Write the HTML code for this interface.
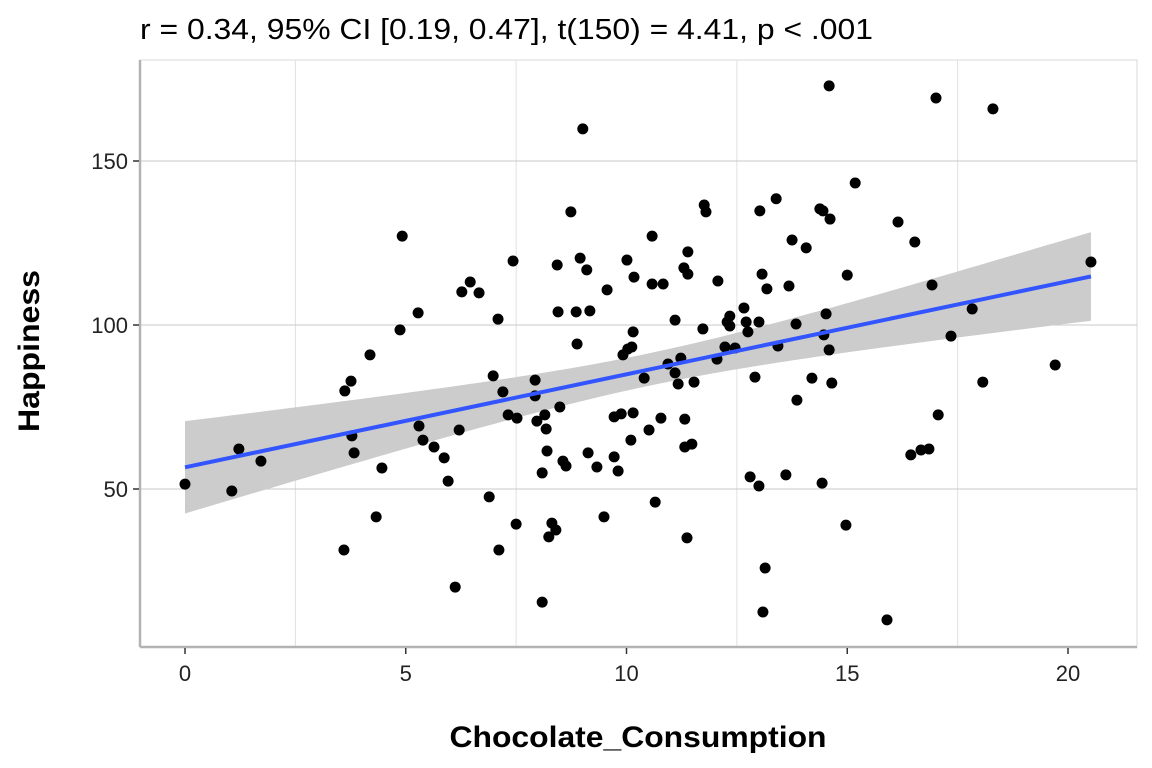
<!DOCTYPE html>
<html><head><meta charset="utf-8"><style>
html,body{margin:0;padding:0;background:#fff;}
svg{display:block;font-family:"Liberation Sans",Arial,sans-serif;}
</style></head><body>
<svg id="chart" width="1152" height="768" viewBox="0 0 1152 768" xmlns="http://www.w3.org/2000/svg">
<text x="140" y="39" font-size="29" textLength="733" lengthAdjust="spacingAndGlyphs" fill="#000">r = 0.34, 95% CI [0.19, 0.47], t(150) = 4.41, p &lt; .001</text>
<text x="638" y="747" font-size="30" font-weight="bold" text-anchor="middle" textLength="377" lengthAdjust="spacingAndGlyphs">Chocolate_Consumption</text>
<text transform="translate(39,351) rotate(-90)" font-size="30" font-weight="bold" text-anchor="middle" textLength="162" lengthAdjust="spacingAndGlyphs">Happiness</text>
<g id="grid"></g><g id="band"></g><g id="pts"></g><g id="axes"></g>
</svg>
<script>
const xVals=[0,1.06,1.22,1.72,3.6,3.62,3.76,3.78,3.83,4.19,4.33,4.46,4.87,4.92,5.28,5.3,5.39,5.64,5.87,5.96,6.12,6.21,6.27,6.46,6.66,6.89,6.98,7.09,7.11,7.2,7.32,7.43,7.5,7.52,7.93,7.93,7.97,8.09,8.09,8.15,8.18,8.2,8.24,8.31,8.4,8.43,8.45,8.49,8.56,8.63,8.74,8.86,8.88,8.95,9.01,9.1,9.13,9.17,9.33,9.49,9.56,9.72,9.72,9.81,9.88,9.92,10.01,10.03,10.1,10.12,10.15,10.15,10.17,10.4,10.51,10.58,10.58,10.65,10.78,10.83,10.94,11.1,11.1,11.17,11.23,11.3,11.32,11.32,11.37,11.39,11.39,11.48,11.53,11.73,11.76,11.8,12.05,12.07,12.23,12.28,12.34,12.34,12.46,12.66,12.71,12.75,12.8,12.91,13.0,13.0,13.02,13.07,13.09,13.14,13.18,13.39,13.43,13.61,13.68,13.75,13.84,13.86,14.07,14.2,14.38,14.43,14.45,14.47,14.52,14.59,14.61,14.59,14.65,14.97,15.0,15.18,15.9,16.15,16.44,16.53,16.67,16.85,16.92,17.01,17.06,17.35,17.83,18.07,18.3,19.71,20.52];
const yVals=[51.5,49.4,62.2,58.5,31.4,79.9,82.9,66.2,61.0,90.9,41.5,56.4,98.5,127.1,103.7,69.2,64.9,62.8,59.5,52.4,20.1,68.0,110.1,113.1,109.8,47.6,84.5,101.8,31.4,79.6,72.6,119.5,39.3,71.6,83.2,78.4,70.7,15.5,54.9,72.6,68.3,61.6,35.4,39.6,37.5,118.3,104.0,75.0,58.5,57.0,134.5,104.0,94.2,120.4,159.8,116.8,61.0,104.3,56.7,41.5,110.7,72.0,59.8,55.5,72.9,90.9,119.8,92.7,64.9,93.3,73.2,97.9,114.6,83.8,68.0,127.1,112.5,46.0,71.6,112.5,88.1,85.4,101.5,82.0,89.9,117.4,71.3,62.8,35.1,122.3,115.5,63.7,82.6,98.8,136.6,134.5,89.6,113.4,93.3,100.9,102.7,99.7,93.0,105.2,100.9,97.9,53.7,84.1,100.9,50.9,134.8,115.5,12.5,25.9,111.0,138.5,93.6,54.3,111.9,125.9,100.3,77.1,123.5,83.8,135.4,51.8,134.8,97.0,103.4,92.4,132.3,172.9,82.3,39.0,115.2,143.3,10.1,131.4,60.4,125.3,61.9,62.2,112.2,169.2,72.6,96.6,104.9,82.6,165.9,87.8,119.2];
const xTicks=[0,5,10,15,20];
const yTicks=[50,100,150];
const xGrid=[2.5,7.5,12.5,17.5];

const NS='http://www.w3.org/2000/svg';
const L=140,R=1137,T=60,B=647;
const sx=v=>185+(v-0)*44.15;
const sy=v=>489-(v-50)*3.28;
function mk(tag,attrs,parent){const e=document.createElementNS(NS,tag);for(const k in attrs)e.setAttribute(k,attrs[k]);parent.appendChild(e);return e;}
const grid=document.getElementById('grid'),band=document.getElementById('band'),pts=document.getElementById('pts'),axes=document.getElementById('axes');
let r=mk('rect',{x:L,y:T,width:R-L,height:B-T,fill:'#fff',stroke:'#d9d9d9','stroke-width':1},grid);


xGrid.forEach(v=>{const l=mk('line',{x1:sx(v),x2:sx(v),y1:T,y2:B,stroke:'#e0e0e0','stroke-width':1},grid);

});
yTicks.forEach(v=>{const l=mk('line',{x1:L,x2:R,y1:sy(v),y2:sy(v),stroke:'#c8c8c8','stroke-width':1},grid);

});
const n=xVals.length;let mx=0,my=0;for(let i=0;i<n;i++){mx+=xVals[i];my+=yVals[i];}mx/=n;my/=n;
let sxx=0,sxy=0;for(let i=0;i<n;i++){sxx+=(xVals[i]-mx)**2;sxy+=(xVals[i]-mx)*(yVals[i]-my);}
const b1=sxy/sxx,b0=my-b1*mx;let sse=0;for(let i=0;i<n;i++)sse+=(yVals[i]-b0-b1*xVals[i])**2;
const s=Math.sqrt(sse/(n-2)),tq=1.976;
const xmin=Math.min(...xVals),xmax=Math.max(...xVals);
let up=[],lo=[];for(let k=0;k<=80;k++){const x=xmin+(xmax-xmin)*k/80;const f=b0+b1*x;const se=s*Math.sqrt(1/n+(x-mx)**2/sxx);up.push(sx(x)+','+sy(f+tq*se));lo.unshift(sx(x)+','+sy(f-tq*se));}
const poly=mk('polygon',{points:up.concat(lo).join(' '),fill:'#cccccc'},band);


for(let i=0;i<n;i++){const c=mk('circle',{cx:sx(xVals[i]),cy:sy(yVals[i]),r:5.5,fill:'#000'},pts);

}
const rl=mk('line',{x1:sx(xmin),y1:sy(b0+b1*xmin),x2:sx(xmax),y2:sy(b0+b1*xmax),stroke:'#3355ff','stroke-width':4},pts);


const ax=mk('line',{x1:L,x2:R,y1:B,y2:B,stroke:'#b3b3b3','stroke-width':2.5},axes);


const ay=mk('line',{x1:L,x2:L,y1:T,y2:B,stroke:'#b3b3b3','stroke-width':2.5},axes);


xTicks.forEach(v=>{const t=mk('line',{x1:sx(v),x2:sx(v),y1:B+1,y2:B+7,stroke:'#333','stroke-width':1.5},axes);


const tx=mk('text',{x:sx(v),y:B+34,'font-size':22,'text-anchor':'middle',fill:'#222'},axes);tx.textContent=v;

});
yTicks.forEach(v=>{const t=mk('line',{x1:L-7,x2:L-1,y1:sy(v),y2:sy(v),stroke:'#333','stroke-width':1.5},axes);


const tx=mk('text',{x:L-12,y:sy(v)+8,'font-size':22,'text-anchor':'end',fill:'#222'},axes);tx.textContent=v;

});
</script>
</body></html>
